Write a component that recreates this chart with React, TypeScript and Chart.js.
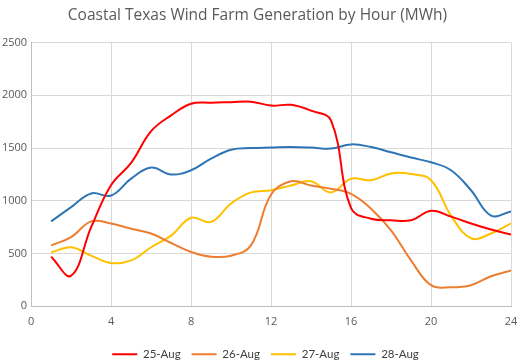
import React, { useEffect, useRef } from "react";
import { Chart, registerables } from "chart.js";

Chart.register(...registerables);

const hours = [1, 2, 3, 4, 5, 6, 7, 8, 9, 10, 11, 12, 13, 14, 15, 16, 17, 18, 19, 20, 21, 22, 23, 24];
const aug25 = [470, 290, 750, 1150, 1360, 1660, 1810, 1920, 1930, 1935, 1940, 1903, 1910, 1855, 1760, 930, 830, 815, 815, 905, 850, 785, 728, 680];
const aug26 = [578, 655, 805, 785, 735, 690, 600, 515, 470, 480, 580, 1060, 1185, 1145, 1115, 1065, 925, 720, 435, 200, 180, 200, 285, 340];
const aug27 = [510, 560, 480, 410, 435, 560, 670, 840, 800, 975, 1080, 1100, 1145, 1185, 1080, 1210, 1195, 1260, 1255, 1195, 860, 645, 690, 785];
const aug28 = [805, 940, 1070, 1050, 1210, 1315, 1250, 1290, 1400, 1485, 1500, 1505, 1510, 1505, 1495, 1535, 1510, 1460, 1410, 1365, 1290, 1100, 860, 900];
const seriesLabels = ["25-Aug", "26-Aug", "27-Aug", "28-Aug"];
const seriesColors = ["#ff0000", "#ed7d31", "#ffc000", "#2e75b6"];
const titleText = "Coastal Texas Wind Farm Generation by Hour (MWh)";

const shiftLegend = {
  id: "shiftLegend",
  afterUpdate(chart: any) {
    const l = chart.legend;
    if (l) {
      l.left += 8;
      l.right += 8;
      if (typeof l.adjustHitBoxes === "function") l.adjustHitBoxes();
    }
  },
};

export default function App() {
  const ref = useRef<HTMLCanvasElement | null>(null);
  useEffect(() => {
    if (!ref.current) return;
    const all = [aug25, aug26, aug27, aug28];
    const chart = new Chart(ref.current, {
      type: "line",
      data: {
        datasets: all.map((vals, i) => ({
          label: seriesLabels[i],
          data: hours.map((h, j) => ({ x: h, y: vals[j] })),
          borderColor: seriesColors[i],
          backgroundColor: seriesColors[i],
          borderWidth: 2,
          pointRadius: 0,
          pointStyle: "line",
          tension: 0.4,
          fill: false,
        })),
      },
      plugins: [shiftLegend],
      options: {
        animation: false,
        responsive: false,
        maintainAspectRatio: false,
        layout: { padding: { left: -2, right: 0, top: 4, bottom: -8 } },
        plugins: {
          title: {
            display: true,
            text: titleText,
            color: "#595959",
            font: { family: "Open Sans", size: 15.5, weight: "normal" },
            padding: { top: 2, bottom: 18 },
          },
          legend: {
            position: "bottom",
            labels: {
              usePointStyle: true,
              pointStyle: "line",
              pointStyleWidth: 25,
              boxHeight: 11,
              color: "#404040",
              font: { family: "Lato", size: 11.5 },
              padding: 11,
            },
          },
          tooltip: { enabled: false },
        },
        scales: {
          x: {
            type: "linear",
            min: 0,
            max: 24,
            afterFit: (scale: any) => {
              scale.paddingRight = 6;
            },
            ticks: { stepSize: 4, color: "#595959", font: { family: "Open Sans", size: 11 }, padding: 9, callback: (v: any) => String(v) },
            grid: { color: "#d9d9d9", drawTicks: false },
            border: { color: "#bfbfbf" },
          },
          y: {
            min: 0,
            max: 2500,
            ticks: { stepSize: 500, color: "#595959", font: { family: "Open Sans", size: 11 }, padding: 4, callback: (v: any) => String(v) },
            grid: { color: "#d9d9d9", drawTicks: false },
            border: { color: "#bfbfbf" },
          },
        },
      },
    });
    return () => chart.destroy();
  }, []);
  return (
    <div style={{ position: "fixed", left: 0, top: 0, width: 517, height: 362, background: "#fff" }}>
      <canvas ref={ref} width={517} height={362} style={{ width: 517, height: 362 }} />
    </div>
  );
}
